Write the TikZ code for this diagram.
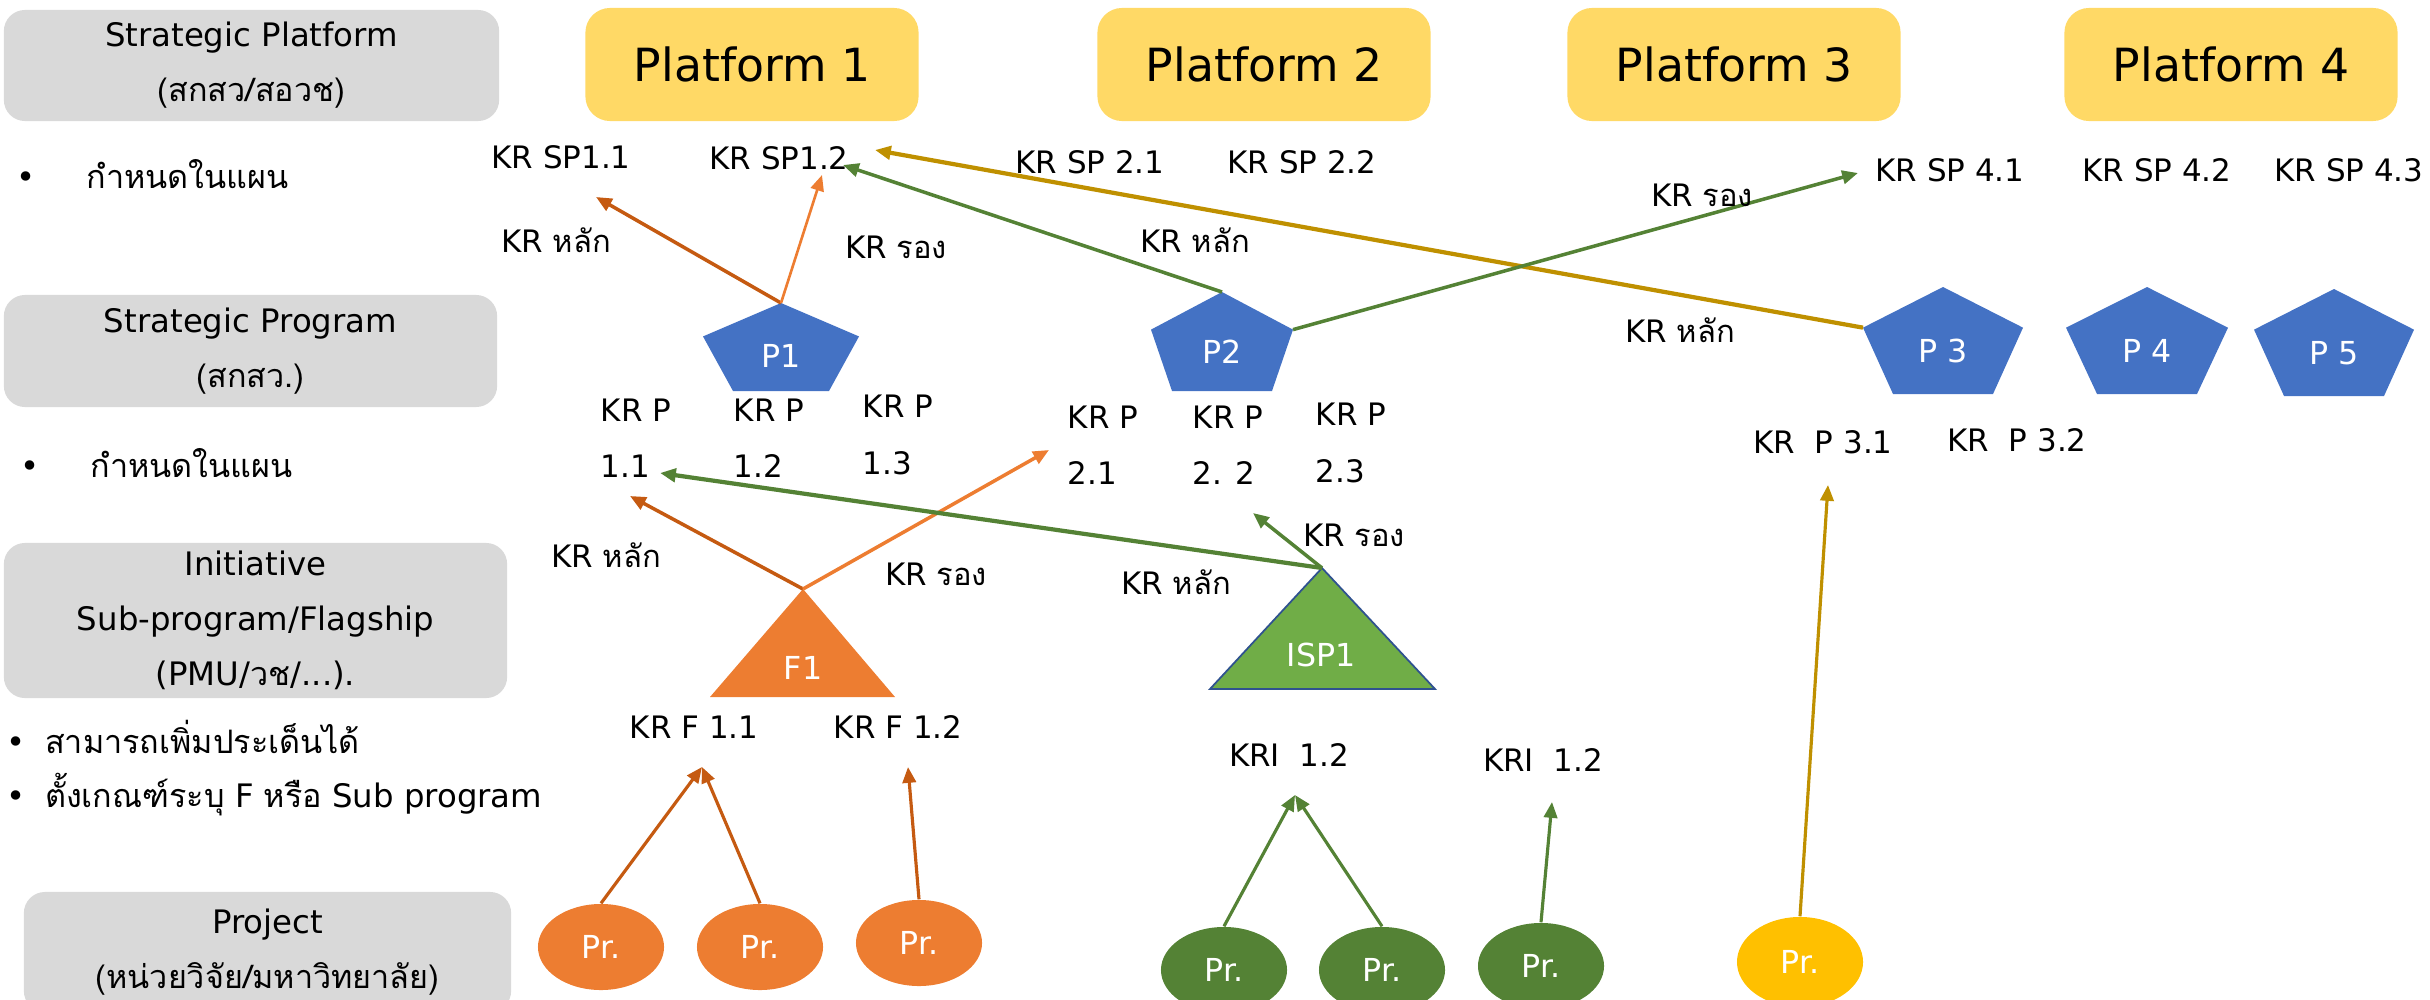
\documentclass[tikz,border=0pt]{standalone}
\usepackage{fontspec}
\setmainfont{DejaVu Sans}
\newfontfamily\thaifont[Script=Thai]{Loma}
\usetikzlibrary{arrows.meta,shapes.geometric}
\definecolor{boxgray}{HTML}{D9D9D9}
\definecolor{platyellow}{HTML}{FFD966}
\definecolor{progblue}{HTML}{4472C4}
\definecolor{flagorange}{HTML}{ED7D31}
\definecolor{darkorange}{HTML}{C55A11}
\definecolor{ispgreen}{HTML}{70AD47}
\definecolor{ispblue}{HTML}{2F528F}
\definecolor{darkgreen}{HTML}{548235}
\definecolor{gold}{HTML}{BF9000}
\definecolor{prjyellow}{HTML}{FFC000}
\newcommand{\tht}[1]{{\thaifont #1}}

\begin{document}
\begin{tikzpicture}[x=0.01cm,y=-0.01cm,>={Triangle[length=4.5pt,width=3.8pt]},
  font=\fontsize{8.8}{10}\selectfont,
  layer/.style={fill=boxgray,rounded corners=6pt,align=center,inner sep=0pt,font=\fontsize{9.2}{15.6}\selectfont},
  platform/.style={fill=platyellow,rounded corners=7pt,minimum width=3.33cm,minimum height=1.13cm,font=\fontsize{13}{15}\selectfont},
  krp/.style={anchor=west,align=left,inner sep=0pt,font=\fontsize{8.8}{16}\selectfont},
  note/.style={anchor=west,inner sep=0pt,font=\fontsize{9.2}{10}\selectfont},
  inlabel/.style={text=white,font=\fontsize{9}{10}\selectfont},
  project/.style={ellipse,fill=#1,text=white,minimum width=1.26cm,minimum height=0.86cm,inner sep=0pt,font=\fontsize{9}{10}\selectfont}]
\useasboundingbox (0,0) rectangle (2430,1000);

\node[layer,minimum width=4.95cm,minimum height=1.11cm] (spf) at (251.5,65.5) {Strategic Platform\\\tht{(สกสว/สอวช)}};
\node[layer,minimum width=4.93cm,minimum height=1.12cm] (spg) at (250.5,351) {Strategic Program\\\tht{(สกสว.)}};
\node[layer,minimum width=5.03cm,minimum height=1.55cm] (ini) at (255.5,620.5) {Initiative\\Sub-program/Flagship\\(PMU/\tht{วช}/...).};
\node[layer,minimum width=4.87cm,minimum height=1.2cm] (prj) at (267.5,952) {Project\\\tht{(หน่วยวิจัย/มหาวิทยาลัย)}};

\node[note] (plan1) at (16,174) {\textbullet\hspace{14.5pt}\tht{กำหนดในแผน}};
\node[note] (plan2) at (20,463) {\textbullet\hspace{14.5pt}\tht{กำหนดในแผน}};
\node[note] (add) at (6,737) {\textbullet\hspace{5.5pt}\tht{สามารถเพิ่มประเด็นได้}};
\node[note] (rule) at (6,795) {\textbullet\hspace{5.5pt}\tht{ตั้งเกณฑ์ระบุ} F \tht{หรือ} Sub program};

\node[platform] (pf1) at (752,64.5) {Platform 1};
\node[platform] (pf2) at (1264,64.5) {Platform 2};
\node[platform] (pf3) at (1734,64.5) {Platform 3};
\node[platform] (pf4) at (2231,64.5) {Platform 4};

\node (sp11) at (561,157) {KR SP1.1};
\node (sp12) at (779,158) {KR SP1.2};
\node (sp21) at (1090,162) {KR SP 2.1};
\node (sp22) at (1302,162) {KR SP 2.2};
\node (sp41) at (1950,170) {KR SP 4.1};
\node (sp42) at (2157,170) {KR SP 4.2};
\node (sp43) at (2349,170) {KR SP 4.3};

\foreach \n/\cx/\t/\w/\b/\h/\lab in {p1/781/303/78/48/88/P1,p2/1222/292/71/50/99/P2,p3/1943/287/80/50/107/P 3,p4/2147/287/81/50/107/P 4,p5/2334/289/80/50/107/P 5}{
  \fill[progblue] (\cx,\t) -- ({\cx-\w},{\t+0.38*\h}) -- ({\cx-\b},{\t+\h}) -- ({\cx+\b},{\t+\h}) -- ({\cx+\w},{\t+0.38*\h}) -- cycle;
  \coordinate (\n-top) at (\cx,\t);
  \coordinate (\n-left) at ({\cx-\w},{\t+0.38*\h});
  \coordinate (\n-right) at ({\cx+\w},{\t+0.38*\h});
  \node[inlabel] (\n) at (\cx,{\t+0.6*\h}) {\lab};
}

\node[krp] (krp11) at (600,438) {KR P\\1.1};
\node[krp] (krp12) at (733,438) {KR P\\1.2};
\node[krp] (krp13) at (862,435) {KR P\\1.3};
\node[krp] (krp21) at (1067,445) {KR P\\2.1};
\node[krp] (krp22) at (1192,445) {KR P\\2. 2};
\node[krp] (krp23) at (1315,443) {KR P\\2.3};
\node (krp31) at (1823,442) {KR\ \ P 3.1};
\node (krp32) at (2017,440) {KR\ \ P 3.2};

\fill[flagorange] (803,589) coordinate (f1-top) -- (710,697) -- (895,697) -- cycle;
\node[inlabel] (f1) at (803,668) {F1};
\filldraw[fill=ispgreen,draw=ispblue,line width=0.5pt] (1322,568) coordinate (isp1-top) -- (1210,689) -- (1435,689) -- cycle;
\node[inlabel] (isp1) at (1321,655) {ISP1};

\node (krf11) at (694,727) {KR F 1.1};
\node (krf12) at (898,727) {KR F 1.2};
\node (kri1) at (1289,755) {KRI\ \ 1.2};
\node (kri2) at (1543,760) {KRI\ \ 1.2};

\node[project=flagorange] (pr1) at (601,947) {Pr.};
\node[project=flagorange] (pr2) at (760,947) {Pr.};
\node[project=flagorange] (pr3) at (919,943) {Pr.};
\node[project=darkgreen] (pr4) at (1224,970) {Pr.};
\node[project=darkgreen] (pr5) at (1382,970) {Pr.};
\node[project=darkgreen] (pr6) at (1541,966) {Pr.};
\node[project=prjyellow,minimum height=0.9cm] (pr7) at (1800,962) {Pr.};

\coordinate (tsp11) at (596,197);
\coordinate (tsp12a) at (822,175);
\coordinate (tsp12b) at (843,165);
\coordinate (tsp12c) at (875,150);
\coordinate (tsp41) at (1858,173);
\coordinate (tp11a) at (630,496);
\coordinate (tp11b) at (660,473);
\coordinate (tp21) at (1049,450);
\coordinate (tp22) at (1253,513);
\coordinate (tp31) at (1828,485);
\coordinate (tf11) at (702,767);
\coordinate (tf12) at (908,767);
\coordinate (tkri1) at (1295,795);
\coordinate (tkri2) at (1552,802);

\path[->]
(p1-top) edge[darkorange,line width=1pt] (tsp11)
(p1-top) edge[flagorange,line width=0.75pt] (tsp12a)
(p2-top) edge[darkgreen,line width=1pt] (tsp12b)
(p3-left) edge[gold,line width=1.2pt] (tsp12c)
(p2-right) edge[darkgreen,line width=1pt] (tsp41)
(f1-top) edge[darkorange,line width=1pt] (tp11a)
(f1-top) edge[flagorange,line width=1pt] (tp21)
(isp1-top) edge[darkgreen,line width=1.2pt] (tp11b)
(isp1-top) edge[darkgreen,line width=1pt] (tp22)
(pr1.north) edge[darkorange,line width=0.9pt] (tf11)
(pr2.north) edge[darkorange,line width=0.9pt] (tf11)
(pr3.north) edge[darkorange,line width=0.9pt] (tf12)
(pr4.north) edge[darkgreen,line width=0.9pt] (tkri1)
(pr5.north) edge[darkgreen,line width=0.9pt] (tkri1)
(pr6.north) edge[darkgreen,line width=0.9pt] (tkri2)
(pr7.north) edge[gold,line width=0.9pt] (tp31);

\node (m1) at (556,240) {KR \tht{หลัก}};
\node (s1) at (896,247) {KR \tht{รอง}};
\node (m2) at (1195,240) {KR \tht{หลัก}};
\node (s2) at (1702,195) {KR \tht{รอง}};
\node (m3) at (1680,330) {KR \tht{หลัก}};
\node (m4) at (606,555) {KR \tht{หลัก}};
\node (s4) at (936,574) {KR \tht{รอง}};
\node (m5) at (1176,582) {KR \tht{หลัก}};
\node (s5) at (1354,535) {KR \tht{รอง}};
\end{tikzpicture}
\end{document}
